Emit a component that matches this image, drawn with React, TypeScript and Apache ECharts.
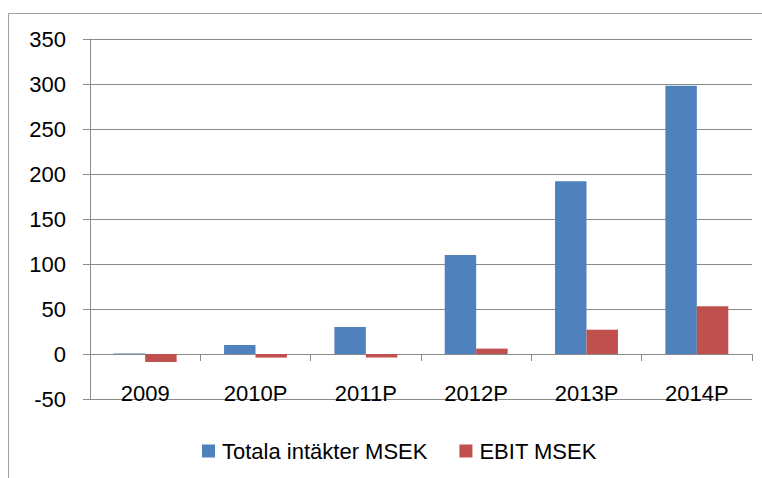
import React, { useEffect, useRef } from "react";
import * as echarts from "echarts";

const categories = ["2009", "2010P", "2011P", "2012P", "2013P", "2014P"];
const revenue = [0.5, 10, 30, 110, 192, 298];
const ebit = [-9, -4, -4, 6, 27, 53];
const seriesNames = ["Totala intäkter MSEK", "EBIT MSEK"];

const FONT = "'Liberation Sans', Arial, sans-serif";
const GRAY = "#8a8a8a";

export default function App() {
  const ref = useRef<HTMLDivElement>(null);
  useEffect(() => {
    if (!ref.current) return;
    const chart = echarts.init(ref.current, undefined, { renderer: "svg" });
    chart.setOption({
      animation: false,
      backgroundColor: "#ffffff",
      textStyle: { fontFamily: FONT },
      graphic: [
        {
          type: "rect",
          shape: { x: 8.5, y: 13.5, width: 800, height: 500 },
          style: { fill: "none", stroke: "#a0a0a0", lineWidth: 1 },
          silent: true,
        },
      ],
      grid: { left: 90, right: 10, top: 39, bottom: 79 },
      legend: {
        left: 202,
        top: 440,
        padding: 0,
        itemWidth: 13,
        itemHeight: 13,
        itemGap: 32,
        icon: "rect",
        textStyle: { fontSize: 22, color: "#000", fontFamily: FONT, padding: [0, 0, 0, 2] },
        data: seriesNames,
      },
      xAxis: {
        type: "category",
        data: categories,
        axisLine: { onZero: true, lineStyle: { color: GRAY, width: 1 } },
        axisTick: { show: true, length: 7, alignWithLabel: false, lineStyle: { color: GRAY } },
        axisLabel: { interval: 0, margin: -17, fontSize: 22, color: "#000", fontFamily: FONT },
        splitLine: { show: false },
      },
      yAxis: {
        type: "value",
        min: -50,
        max: 350,
        interval: 50,
        axisLine: { show: true, lineStyle: { color: GRAY, width: 1 } },
        axisTick: { show: true, length: 7, lineStyle: { color: GRAY } },
        axisLabel: { margin: 24, fontSize: 22, color: "#000", fontFamily: FONT },
        splitLine: { show: true, lineStyle: { color: GRAY, width: 1 } },
      },
      series: [
        {
          name: seriesNames[0],
          type: "bar",
          data: revenue,
          barGap: "0%",
          barCategoryGap: "43%",
          itemStyle: { color: "#4F81BD" },
        },
        {
          name: seriesNames[1],
          type: "bar",
          data: ebit,
          barGap: "0%",
          barCategoryGap: "43%",
          itemStyle: { color: "#C0504D" },
        },
      ],
    });
    return () => chart.dispose();
  }, []);
  return (
    <div
      ref={ref}
      style={{ position: "absolute", left: 0, top: 0, width: 762, height: 478 }}
    />
  );
}
